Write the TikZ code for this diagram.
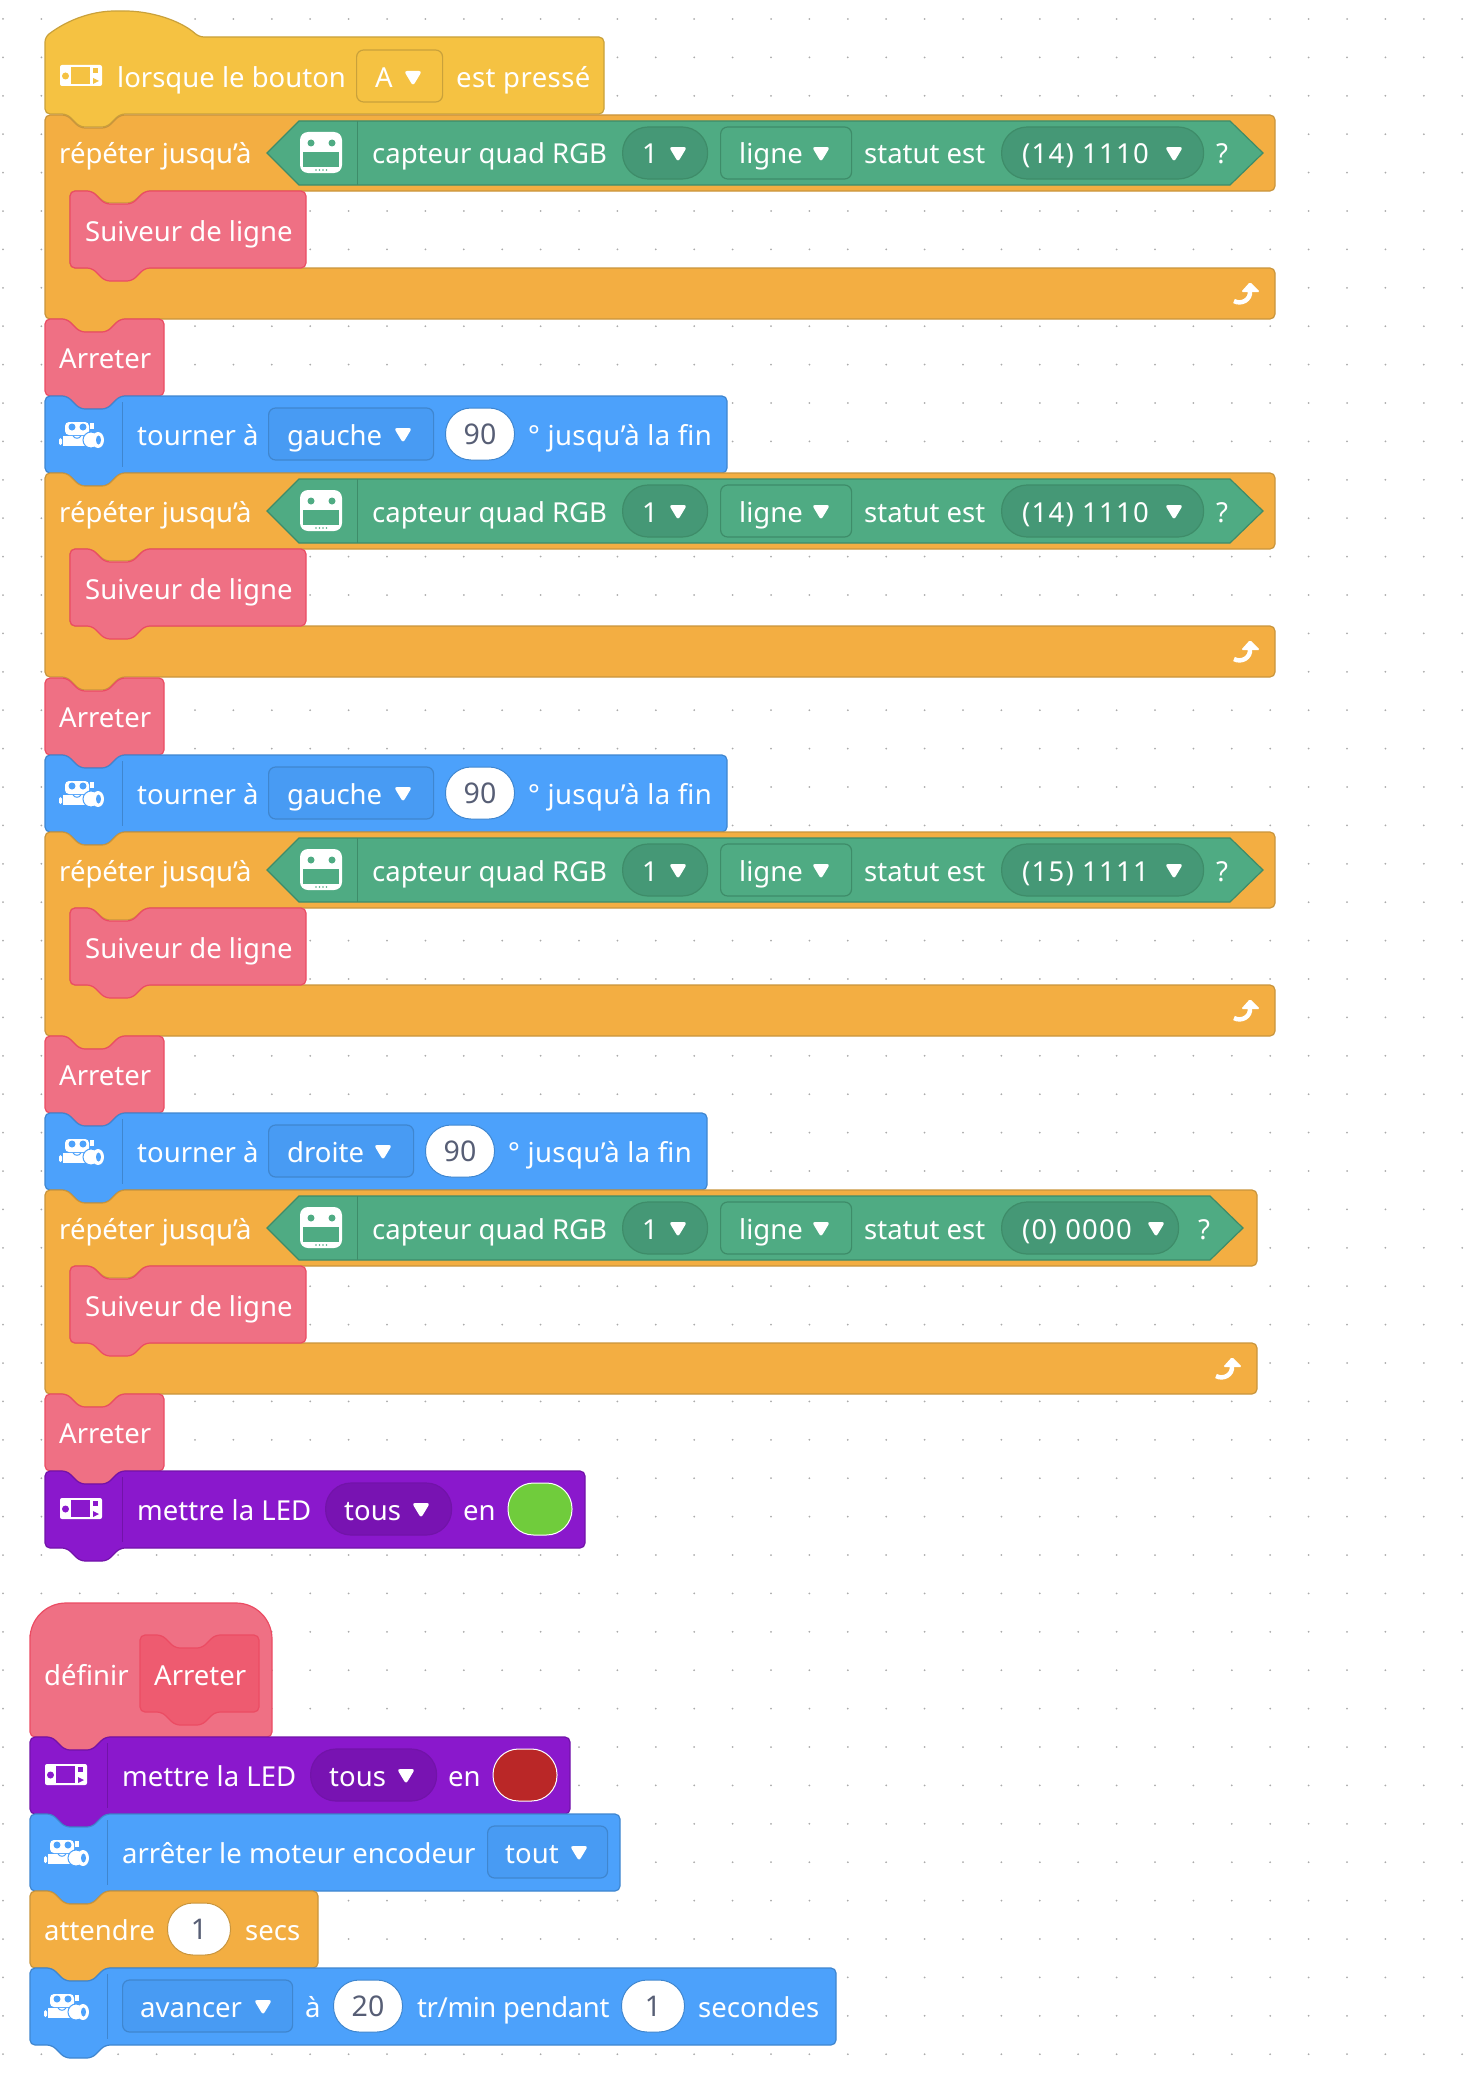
\documentclass[tikz,border=0pt]{standalone}
\usepackage{xcolor}
\usepackage{fontspec}
\setmainfont{Noto Sans}

\definecolor{hatyellow}{HTML}{F5C242}
\definecolor{hatline}{HTML}{C9A13B}
\definecolor{ctrlorange}{HTML}{F3AE42}
\definecolor{ctrlline}{HTML}{C9953C}
\definecolor{ownpink}{HTML}{EF7084}
\definecolor{ownline}{HTML}{EB4C63}
\definecolor{owndark}{HTML}{EE5B70}
\definecolor{motorblue}{HTML}{4CA1FB}
\definecolor{motorline}{HTML}{3F86CF}
\definecolor{motormenu}{HTML}{489BF3}
\definecolor{ledpurple}{HTML}{8A18CC}
\definecolor{ledline}{HTML}{7213A9}
\definecolor{ledmenu}{HTML}{7813B2}
\definecolor{sensegreen}{HTML}{4FAB83}
\definecolor{senseline}{HTML}{3E8C69}
\definecolor{sensemenu}{HTML}{459876}
\definecolor{numtext}{HTML}{575E75}
\definecolor{griddot}{HTML}{ABABAB}
\definecolor{ledgreen}{HTML}{70CC3C}
\definecolor{ledred}{HTML}{BA2727}

\tikzset{
  blocktext/.style={anchor=base west, inner sep=0pt, text=white, font=\fontsize{27.5}{30}\selectfont},
  numpill/.style={draw=#1, fill=white, line width=1pt, rounded corners=25.5pt, minimum height=52pt, inner sep=0pt, text=numtext, text height=20pt, text depth=0pt, font=\fontsize{28.5}{30}\selectfont},
  colourpill/.style={draw=white, fill=#1, line width=1pt, rounded corners=25.5pt, minimum height=52pt, minimum width=64pt},
  menubox/.style n args={2}{draw=#2, fill=#1, line width=1.2pt, anchor=west, rounded corners=7pt, minimum height=52pt},
  menupill/.style n args={2}{draw=#2, fill=#1, line width=1.2pt, anchor=west, rounded corners=25.5pt, minimum height=52pt},
  blockpath/.style n args={2}{draw=#2, fill=#1, line width=1.2pt, rounded corners=5pt},
}

% stack block with notch on top and bump below
\newcommand{\stackblock}[6]{
  \path[blockpath={#1}{#2}] (#3,#4) -- (#3+22,#4) -- (#3+35,#4+13) -- (#3+62,#4+13) -- (#3+75,#4) -- (#5,#4) -- (#5,#6) -- (#3+75,#6) -- (#3+62,#6+13) -- (#3+35,#6+13) -- (#3+22,#6) -- (#3,#6) -- cycle;
}
\newcommand{\blocktxt}[4]{\node (#1) [blocktext] at (#2,#3+11) {#4};}
\newcommand{\menuarrow}[2]{
  \fill[white, rounded corners=3pt] (#1-9,#2-6) -- (#1+9,#2-6) -- (#1,#2+9) -- cycle;
}
% controller icon, #3 is the block colour
\newcommand{\ctrlicon}[3]{
  \fill[white, rounded corners=2pt] (#1,#2-11) rectangle (#1+42,#2+10);
  \fill[#3] (#1+11,#2-9) rectangle (#1+30,#2+8);
  \fill[#3] (#1+5.5,#2) circle (3.5);
  \fill[#3] (#1+33,#2-8) rectangle (#1+38,#2-3);
  \fill[#3] (#1+33,#2+2) -- (#1+33,#2+8) -- (#1+39,#2+5) -- cycle;
}
% robot icon
\newcommand{\roboticon}[2]{
  \fill[white, rounded corners=4pt] (#1+6,#2-12) rectangle (#1+30,#2+1);
  \fill[motorblue] (#1+13,#2-7) circle (3.5) (#1+24,#2-7) circle (3.5);
  \fill[white] (#1+31,#2-11) rectangle (#1+35,#2-5);
  \fill[white] (#1+4,#2+2) rectangle (#1+28,#2+12);
  \fill[white, rounded corners=1.5pt] (#1,#2+4) rectangle (#1+3,#2+11);
  \draw[motorblue, line width=1pt] (#1+14,#2+2) .. controls (#1+16,#2+5) and (#1+20,#2+5) .. (#1+22,#2+2);
  \fill[white] (#1+32,#2+6) ellipse (8 and 8);
  \draw[motorblue, line width=1pt] (#1+32,#2+6) ellipse (8 and 8);
  \fill[white] (#1+39,#2+6) ellipse (6 and 8);
  \fill[motorblue] (#1+39.5,#2+6) ellipse (2.5 and 4.5);
}
% line sensor icon
\newcommand{\senseicon}[2]{
  \fill[white, rounded corners=8pt] (#1,#2-21) rectangle (#1+42,#2+20);
  \fill[sensegreen] (#1+3,#2-1) rectangle (#1+39,#2+14);
  \fill[sensegreen] (#1+11,#2-10) circle (3.5) (#1+32,#2-10) circle (3.5);
  \foreach \i in {16,19.5,23,26.5} {
    \fill[sensegreen] (#1+\i,#2+17) circle (0.9);
  }
}
% #1 name, #2 top, #3 right edge, #4 hexagon shoulder, #5 status, #6 pill width, #7 arrow, #8 question mark
\newcommand{\loopstack}[8]{
  \path[blockpath={ctrlorange}{ctrlline}] (45,#2) -- (67,#2) -- (80,#2+13) -- (107,#2+13) -- (120,#2) -- (#3,#2) -- (#3,#2+76) -- (145,#2+76) -- (132,#2+88) -- (105,#2+88) -- (92,#2+76) -- (70,#2+76) -- (70,#2+153) -- (#3,#2+153) -- (#3,#2+204) -- (120,#2+204) -- (107,#2+217) -- (80,#2+217) -- (67,#2+204) -- (45,#2+204) -- cycle;
  \blocktxt{#1-loop}{59}{#2+38}{répéter jusqu'à}
  \draw[senseline, fill=sensegreen, line width=1.2pt] (267,#2+38) -- (299,#2+6) -- (#4,#2+6) -- (#4+33,#2+38) -- (#4,#2+70) -- (299,#2+70) -- cycle;
  \draw[senseline, line width=1pt] (357,#2+6) -- (357,#2+70);
  \senseicon{300}{#2+38}
  \blocktxt{#1-quad}{372}{#2+38}{capteur quad RGB}
  \node (#1-num) [menupill={sensemenu}{senseline}, minimum width=85pt] at (622,#2+38) {};
  \blocktxt{#1-numtxt}{642}{#2+38}{1}
  \menuarrow{678}{#2+38}
  \node (#1-line) [menubox={sensegreen}{senseline}, minimum width=131pt] at (720,#2+38) {};
  \blocktxt{#1-linetxt}{739}{#2+38}{ligne}
  \menuarrow{821}{#2+38}
  \blocktxt{#1-stat}{864}{#2+38}{statut est}
  \node (#1-status) [menupill={sensemenu}{senseline}, minimum width=#6pt] at (1001,#2+38) {};
  \blocktxt{#1-statustxt}{1022}{#2+38}{\addfontfeatures{LetterSpace=4.5}#5}
  \menuarrow{#7}{#2+38}
  \blocktxt{#1-query}{#8}{#2+38}{?}
  \stackblock{ownpink}{ownline}{70}{#2+76}{306}{#2+153}
  \blocktxt{#1-follow}{85}{#2+115}{Suiveur de ligne}
  \draw[white, line width=4.5pt] (#3-25,#2+176) .. controls (#3-24,#2+185) and (#3-34,#2+190) .. (#3-41,#2+186);
  \fill[white, rounded corners=1.5pt] (#3-25,#2+167) -- (#3-15,#2+177) -- (#3-34,#2+177) -- cycle;
}
\newcommand{\stopblock}[2]{
  \stackblock{ownpink}{ownline}{45}{#2}{164}{#2+77}
  \blocktxt{#1}{59}{#2+38.5}{Arreter}
}
% #1 name, #2 top, #3 direction, #4 menu width, #5 arrow, #6 pill centre, #7 tail text, #8 right edge
\newcommand{\turnblock}[8]{
  \stackblock{motorblue}{motorline}{45}{#2}{#8}{#2+77}
  \draw[motorline, line width=1pt] (122,#2+6) -- (122,#2+71);
  \roboticon{59}{#2+38}
  \blocktxt{#1-turn}{137}{#2+38}{tourner à}
  \node (#1-dir) [menubox={motormenu}{motorline}, minimum width=#4pt] at (268,#2+38) {};
  \blocktxt{#1-dirtxt}{287}{#2+38}{#3}
  \menuarrow{#5}{#2+38}
  \node (#1-angle) [numpill=motorline, minimum width=69pt] at (#6,#2+38) {90};
  \blocktxt{#1-end}{#7}{#2+38}{\addfontfeatures{LetterSpace=1.5}° jusqu'à la fin}
}
% #1 name, #2 left, #3 top, #4 right edge, #5 colour
\newcommand{\ledblock}[5]{
  \stackblock{ledpurple}{ledline}{#2}{#3}{#4}{#3+77}
  \draw[ledline, line width=1pt] (#2+77,#3+6) -- (#2+77,#3+71);
  \ctrlicon{#2+15}{#3+38}{ledpurple}
  \blocktxt{#1-set}{#2+92}{#3+38}{mettre la LED}
  \node (#1-all) [menupill={ledmenu}{ledline}, minimum width=126pt] at (#2+280,#3+38) {};
  \blocktxt{#1-alltxt}{#2+299}{#3+38}{tous}
  \menuarrow{#2+376}{#3+38}
  \blocktxt{#1-in}{#2+418}{#3+38}{en}
  \node (#1-colour) [colourpill=#5] at (#2+495,#3+38) {};
}

\begin{document}
\begin{tikzpicture}[x=1pt, y=-1pt]
\useasboundingbox (0,0) rectangle (1472,2082);

% grid of the workspace
\foreach \i in {0,...,38} {
  \foreach \j in {0,...,53} {
    \fill[griddot] (3+38.4*\i,19+38.4*\j) circle (1);
  }
}

% main script
\path[blockpath={hatyellow}{hatline}] (45,37) .. controls (70,18) and (95,11) .. (120,11) .. controls (150,11) and (180,20) .. (199,37) -- (604,37) -- (604,114) -- (120,114) -- (107,127) -- (80,127) -- (67,114) -- (45,114) -- cycle;
\ctrlicon{60}{76}{hatyellow}
\blocktxt{press}{117}{77}{lorsque le bouton}
\node (button) [menubox={hatyellow}{hatline}, minimum width=86pt] at (356,76) {};
\blocktxt{buttontxt}{375}{77}{A}
\menuarrow{413}{77}
\blocktxt{pressed}{456}{77}{\addfontfeatures{LetterSpace=1.5}est pressé}

\loopstack{one}{115}{1275}{1230}{(14) 1110}{202}{1174}{1216}
\stopblock{stopone}{319}
\turnblock{turnone}{396}{gauche}{165}{403}{480}{528}{727}

\loopstack{two}{473}{1275}{1230}{(14) 1110}{202}{1174}{1216}
\stopblock{stoptwo}{678}
\turnblock{turntwo}{755}{gauche}{165}{403}{480}{528}{727}

\loopstack{three}{832}{1275}{1230}{(15) 1111}{202}{1174}{1216}
\stopblock{stopthree}{1036}
\turnblock{turnthree}{1113}{droite}{145}{383}{460}{508}{707}

\loopstack{four}{1190}{1257}{1210}{(0) 0000}{177}{1156}{1198}
\stopblock{stopfour}{1394}
\ledblock{ledon}{45}{1471}{585}{ledgreen}

% own block
\path[blockpath={ownpink}{ownline}] (30,1640) [rounded corners=36pt] -- (30,1603) -- (272,1603) [rounded corners=5pt] -- (272,1737) -- (105,1737) -- (92,1750) -- (65,1750) -- (52,1737) -- (30,1737) -- cycle;
\blocktxt{define}{44}{1674}{définir}
\stackblock{owndark}{ownline}{140}{1635}{259}{1712}
\blocktxt{defname}{154}{1674}{Arreter}

\ledblock{ledoff}{30}{1737}{570}{ledred}

\stackblock{motorblue}{motorline}{30}{1814}{620}{1891}
\draw[motorline, line width=1pt] (107,1820) -- (107,1885);
\roboticon{44}{1852}
\blocktxt{stopenc}{122}{1852}{arrêter le moteur encodeur}
\node (stopall) [menubox={motormenu}{motorline}, minimum width=120pt] at (487,1852) {};
\blocktxt{stopalltxt}{505}{1852}{tout}
\menuarrow{579}{1852}

\stackblock{ctrlorange}{ctrlline}{30}{1891}{318}{1968}
\blocktxt{wait}{44}{1929}{attendre}
\node (waitnum) [numpill=ctrlline, minimum width=63pt] at (199,1929) {1};
\blocktxt{waitunit}{245}{1929}{secs}

\stackblock{motorblue}{motorline}{30}{1968}{836}{2045}
\draw[motorline, line width=1pt] (107,1974) -- (107,2039);
\roboticon{44}{2006}
\node (move) [menubox={motormenu}{motorline}, minimum width=170pt] at (122,2006) {};
\blocktxt{movetxt}{140}{2006}{avancer}
\menuarrow{263}{2006}
\blocktxt{at}{305}{2006}{à}
\node (speed) [numpill=motorline, minimum width=69pt] at (368,2006) {20};
\blocktxt{during}{417}{2006}{\addfontfeatures{LetterSpace=-1.5}tr/min pendant}
\node (time) [numpill=motorline, minimum width=63pt] at (653,2006) {1};
\blocktxt{seconds}{698}{2006}{secondes}

\end{tikzpicture}
\end{document}
